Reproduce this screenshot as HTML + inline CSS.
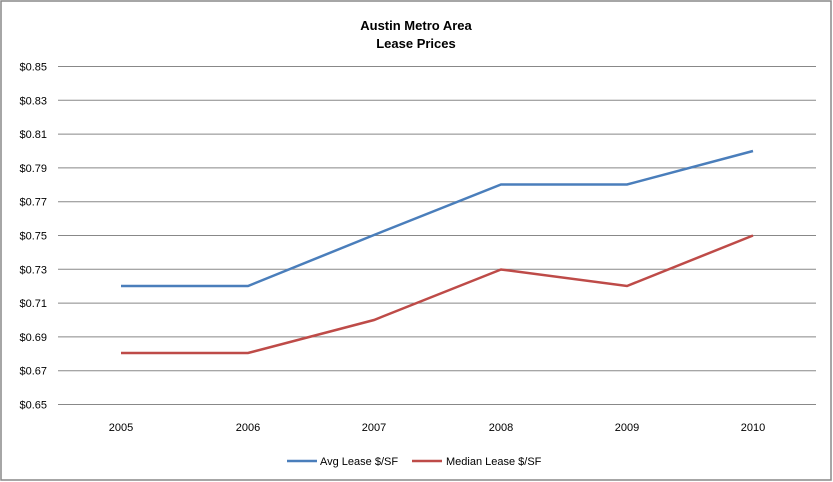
<!DOCTYPE html>
<html><head><meta charset="utf-8"><style>body{margin:0;background:#fff}svg{display:block}text{font-family:"Liberation Sans",sans-serif;fill:#000}</style></head><body>
<svg width="833" height="482" xmlns="http://www.w3.org/2000/svg">
<rect x="1" y="1" width="830" height="479" fill="#fff" stroke="#888" stroke-width="1.5"/>
<text x="416" y="30" text-anchor="middle" font-size="13" font-weight="bold">Austin Metro Area</text>
<text x="416" y="48" text-anchor="middle" font-size="13" font-weight="bold">Lease Prices</text>
<g stroke="#888" stroke-width="1">
<line x1="58" x2="816" y1="66.5" y2="66.5"/><line x1="58" x2="816" y1="100.3" y2="100.3"/>
<line x1="58" x2="816" y1="134.1" y2="134.1"/><line x1="58" x2="816" y1="167.9" y2="167.9"/>
<line x1="58" x2="816" y1="201.7" y2="201.7"/><line x1="58" x2="816" y1="235.5" y2="235.5"/>
<line x1="58" x2="816" y1="269.3" y2="269.3"/><line x1="58" x2="816" y1="303.1" y2="303.1"/>
<line x1="58" x2="816" y1="336.9" y2="336.9"/><line x1="58" x2="816" y1="370.7" y2="370.7"/>
<line x1="58" x2="816" y1="404.5" y2="404.5"/>
</g>
<g font-size="11" text-anchor="end">
<text x="47" y="70.5">$0.85</text><text x="47" y="104.3">$0.83</text><text x="47" y="138.1">$0.81</text>
<text x="47" y="171.9">$0.79</text><text x="47" y="205.7">$0.77</text><text x="47" y="239.5">$0.75</text>
<text x="47" y="273.3">$0.73</text><text x="47" y="307.1">$0.71</text><text x="47" y="340.9">$0.69</text>
<text x="47" y="374.7">$0.67</text><text x="47" y="408.5">$0.65</text>
</g>
<g font-size="11" text-anchor="middle">
<text x="121" y="431">2005</text><text x="248" y="431">2006</text><text x="374" y="431">2007</text>
<text x="501" y="431">2008</text><text x="627" y="431">2009</text><text x="753" y="431">2010</text>
</g>
<polyline fill="none" stroke="#4a7ebb" stroke-width="2.5" points="121,286 248,286 374,235 501,184.5 627,184.5 753,151"/>
<polyline fill="none" stroke="#be4b48" stroke-width="2.5" points="121,353 248,353 374,320 501,269.5 627,286 753,235.5"/>
<line x1="287" x2="317" y1="461" y2="461" stroke="#4a7ebb" stroke-width="2.5"/>
<text x="320" y="465" font-size="11">Avg Lease $/SF</text>
<line x1="412" x2="442" y1="461" y2="461" stroke="#be4b48" stroke-width="2.5"/>
<text x="446" y="465" font-size="11">Median Lease $/SF</text>
</svg>
</body></html>
